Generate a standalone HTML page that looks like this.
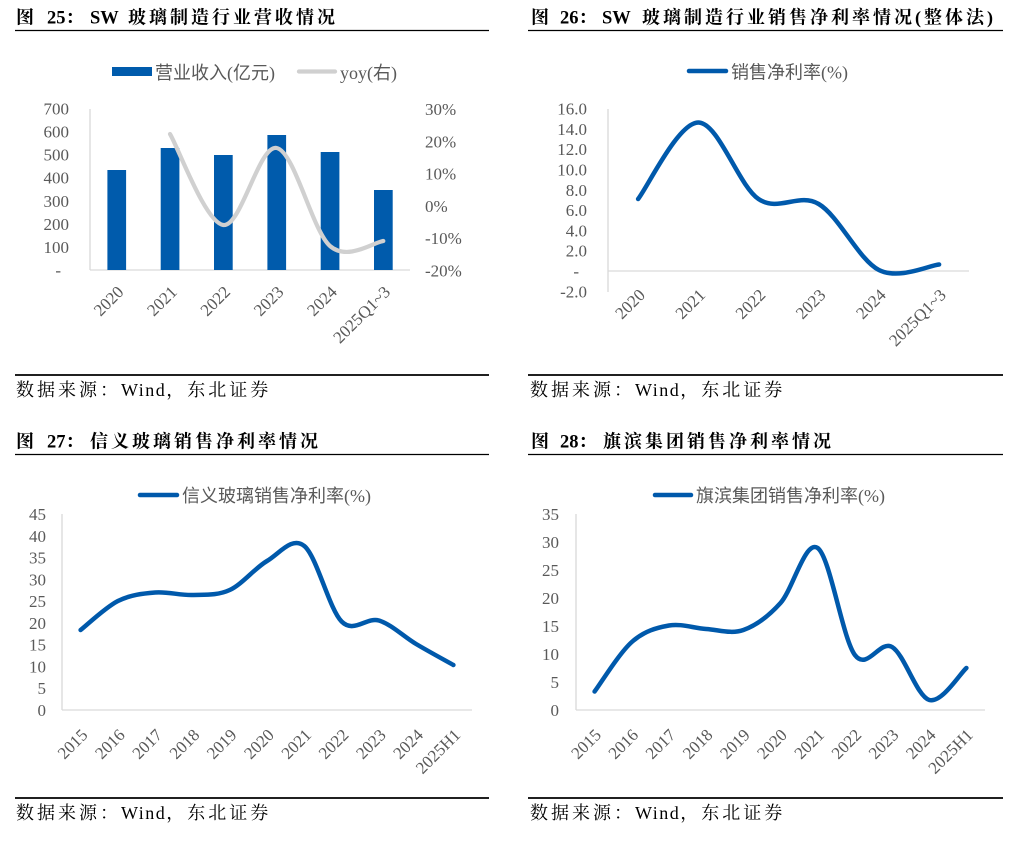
<!DOCTYPE html>
<html><head><meta charset="utf-8">
<style>
html,body{margin:0;padding:0;background:#fff;}
body{width:1020px;height:846px;overflow:hidden;position:relative;}
svg{position:absolute;left:0;top:0;}
.tt{font-family:"Liberation Serif","Noto Serif CJK SC",serif;font-weight:700;font-size:18px;letter-spacing:3px;fill:#000;}
.tt .l{letter-spacing:0;font-size:18.5px;}
.src{font-family:"Liberation Serif","Noto Serif CJK SC",serif;font-size:18px;letter-spacing:3px;fill:#000;}
.lg{font-family:"Liberation Serif","Noto Sans CJK SC",sans-serif;font-size:18px;fill:#595959;}
.ax{font-family:"Liberation Serif",serif;font-size:17px;fill:#595959;}
</style></head>
<body>
<svg width="1020" height="846" viewBox="0 0 1020 846" xmlns="http://www.w3.org/2000/svg">
<!-- Titles -->
<text class="tt" y="23.5"><tspan x="16">图</tspan><tspan x="47" class="l">25</tspan><tspan>：</tspan><tspan x="90" class="l">SW</tspan><tspan x="128">玻璃制造行业营收情况</tspan></text>
<text class="tt" y="23.5"><tspan x="531">图</tspan><tspan x="560" class="l">26</tspan><tspan>：</tspan><tspan x="602" class="l">SW</tspan><tspan x="642">玻璃制造行业销售净利率情况(整体法)</tspan></text>
<text class="tt" y="447.5"><tspan x="16">图</tspan><tspan x="47" class="l">27</tspan><tspan>：</tspan><tspan x="90">信义玻璃销售净利率情况</tspan></text>
<text class="tt" y="447.5"><tspan x="531">图</tspan><tspan x="560" class="l">28</tspan><tspan>：</tspan><tspan x="603">旗滨集团销售净利率情况</tspan></text>
<line x1="15" y1="30.5" x2="489" y2="30.5" stroke="#000" stroke-width="1.2"/>
<line x1="528" y1="30.5" x2="1003" y2="30.5" stroke="#000" stroke-width="1.2"/>
<line x1="15" y1="454.5" x2="489" y2="454.5" stroke="#000" stroke-width="1.2"/>
<line x1="528" y1="454.5" x2="1003" y2="454.5" stroke="#000" stroke-width="1.2"/>
<!-- Sources -->
<line x1="15" y1="375" x2="489" y2="375" stroke="#000" stroke-width="1.7"/>
<line x1="528" y1="375" x2="1003" y2="375" stroke="#000" stroke-width="1.7"/>
<line x1="15" y1="798" x2="489" y2="798" stroke="#000" stroke-width="1.7"/>
<line x1="528" y1="798" x2="1003" y2="798" stroke="#000" stroke-width="1.7"/>
<text class="src" x="16" y="396">数据来源：<tspan style="letter-spacing:1.5px">Wind</tspan>，东北证券</text>
<text class="src" x="530" y="396">数据来源：<tspan style="letter-spacing:1.5px">Wind</tspan>，东北证券</text>
<text class="src" x="16" y="819">数据来源：<tspan style="letter-spacing:1.5px">Wind</tspan>，东北证券</text>
<text class="src" x="530" y="819">数据来源：<tspan style="letter-spacing:1.5px">Wind</tspan>，东北证券</text>

<!-- ================= Chart 1 ================= -->
<rect x="112" y="67" width="40" height="9" fill="#005bac"/>
<text class="lg" x="155" y="79">营业收入(亿元)</text>
<line x1="299" y1="71.5" x2="335" y2="71.5" stroke="#d0d0d0" stroke-width="4.3" stroke-linecap="round"/>
<text class="lg" x="340" y="79">yoy(右)</text>

<g class="ax" text-anchor="end">
<text x="69" y="114.5">700</text>
<text x="69" y="137.6">600</text>
<text x="69" y="160.6">500</text>
<text x="69" y="183.7">400</text>
<text x="69" y="206.8">300</text>
<text x="69" y="229.9">200</text>
<text x="69" y="252.9">100</text>
<text x="61" y="276">-</text>
</g>
<g class="ax" text-anchor="start">
<text x="425" y="115">30%</text>
<text x="425" y="147.3">20%</text>
<text x="425" y="179.6">10%</text>
<text x="425" y="211.9">0%</text>
<text x="425" y="244.2">-10%</text>
<text x="425" y="276.5">-20%</text>
</g>
<line x1="90" y1="109" x2="90" y2="270" stroke="#d9d9d9" stroke-width="1.3"/>
<line x1="90" y1="270" x2="410" y2="270" stroke="#d9d9d9" stroke-width="1.3"/>
<g fill="#005bac">
<rect x="107.4" y="170" width="18.7" height="100"/>
<rect x="160.7" y="148" width="18.7" height="122"/>
<rect x="214" y="155" width="18.7" height="115"/>
<rect x="267.4" y="135" width="18.7" height="135"/>
<rect x="320.7" y="152" width="18.7" height="118"/>
<rect x="374" y="190" width="18.7" height="80"/>
</g>
<path d="M170,134 C178.9,149 205.5,222.7 223.3,225 C241.1,227.3 258.9,144.5 276.7,148 C294.5,151.5 312.2,230.5 330,246 C347.8,261.5 374.4,241.8 383.3,241" fill="none" stroke="#d0d0d0" stroke-width="4.2" stroke-linecap="round" stroke-linejoin="round"/>
<g class="ax" text-anchor="end">
<text transform="translate(120.7,289) rotate(-45)" dy="0.33em">2020</text>
<text transform="translate(174,289) rotate(-45)" dy="0.33em">2021</text>
<text transform="translate(227.3,289) rotate(-45)" dy="0.33em">2022</text>
<text transform="translate(280.7,289) rotate(-45)" dy="0.33em">2023</text>
<text transform="translate(334,289) rotate(-45)" dy="0.33em">2024</text>
<text transform="translate(387.3,289) rotate(-45)" dy="0.33em">2025Q1~3</text>
</g>

<!-- ================= Chart 2 ================= -->
<line x1="689" y1="71" x2="726" y2="71" stroke="#0059ab" stroke-width="4.5" stroke-linecap="round"/>
<text class="lg" x="731" y="78.5">销售净利率(%)</text>
<g class="ax" text-anchor="end">
<text x="587" y="114.6">16.0</text>
<text x="587" y="134.9">14.0</text>
<text x="587" y="155.2">12.0</text>
<text x="587" y="175.5">10.0</text>
<text x="587" y="195.8">8.0</text>
<text x="587" y="216.1">6.0</text>
<text x="587" y="236.4">4.0</text>
<text x="587" y="256.7">2.0</text>
<text x="579" y="277">-</text>
<text x="587" y="297.3">-2.0</text>
</g>
<line x1="608" y1="109" x2="608" y2="292" stroke="#d9d9d9" stroke-width="1.3"/>
<line x1="608" y1="271" x2="969" y2="271" stroke="#d9d9d9" stroke-width="1.3"/>
<path d="M638.1,199 C648.1,186.25 678.2,122.5 698.3,122.5 C718.4,122.5 738.4,185.4 758.5,199 C778.6,212.6 798.6,192.2 818.7,204 C838.8,215.8 858.8,259.9 878.9,270 C899,280.1 929.1,265.4 939.1,264.5" fill="none" stroke="#0059ab" stroke-width="4.5" stroke-linecap="round" stroke-linejoin="round"/>
<g class="ax" text-anchor="end">
<text transform="translate(642.1,292) rotate(-45)" dy="0.33em">2020</text>
<text transform="translate(702.3,292) rotate(-45)" dy="0.33em">2021</text>
<text transform="translate(762.5,292) rotate(-45)" dy="0.33em">2022</text>
<text transform="translate(822.7,292) rotate(-45)" dy="0.33em">2023</text>
<text transform="translate(882.9,292) rotate(-45)" dy="0.33em">2024</text>
<text transform="translate(943.1,292) rotate(-45)" dy="0.33em">2025Q1~3</text>
</g>

<!-- ================= Chart 3 ================= -->
<line x1="140" y1="495" x2="177" y2="495" stroke="#0059ab" stroke-width="4.5" stroke-linecap="round"/>
<text class="lg" x="182" y="502">信义玻璃销售净利率(%)</text>
<g class="ax" text-anchor="end">
<text x="46" y="520">45</text>
<text x="46" y="541.8">40</text>
<text x="46" y="563.6">35</text>
<text x="46" y="585.3">30</text>
<text x="46" y="607.1">25</text>
<text x="46" y="628.9">20</text>
<text x="46" y="650.7">15</text>
<text x="46" y="672.4">10</text>
<text x="46" y="694.2">5</text>
<text x="46" y="716">0</text>
</g>
<line x1="62" y1="514" x2="62" y2="710" stroke="#d9d9d9" stroke-width="1.3"/>
<line x1="62" y1="710" x2="472" y2="710" stroke="#d9d9d9" stroke-width="1.3"/>
<path d="M80.6,630 C86.8,625.2 105.5,607.3 117.9,601 C130.3,594.8 142.8,593.5 155.2,592.5 C167.6,591.5 180.1,595.4 192.5,595 C204.9,594.6 217.3,595.7 229.7,590 C242.1,584.3 254.6,568.3 267,561 C279.4,553.7 291.9,535.9 304.3,546 C316.7,556.1 329.2,609.1 341.6,621.5 C354,633.9 366.5,616.75 378.9,620.5 C391.3,624.25 403.7,636.6 416.1,644 C428.5,651.4 447.2,661.5 453.4,665" fill="none" stroke="#0059ab" stroke-width="4.5" stroke-linecap="round" stroke-linejoin="round"/>
<g class="ax" text-anchor="end">
<text transform="translate(84.6,732) rotate(-45)" dy="0.33em">2015</text>
<text transform="translate(121.9,732) rotate(-45)" dy="0.33em">2016</text>
<text transform="translate(159.2,732) rotate(-45)" dy="0.33em">2017</text>
<text transform="translate(196.5,732) rotate(-45)" dy="0.33em">2018</text>
<text transform="translate(233.7,732) rotate(-45)" dy="0.33em">2019</text>
<text transform="translate(271,732) rotate(-45)" dy="0.33em">2020</text>
<text transform="translate(308.3,732) rotate(-45)" dy="0.33em">2021</text>
<text transform="translate(345.6,732) rotate(-45)" dy="0.33em">2022</text>
<text transform="translate(382.9,732) rotate(-45)" dy="0.33em">2023</text>
<text transform="translate(420.1,732) rotate(-45)" dy="0.33em">2024</text>
<text transform="translate(457.4,732) rotate(-45)" dy="0.33em">2025H1</text>
</g>

<!-- ================= Chart 4 ================= -->
<line x1="655" y1="495" x2="691" y2="495" stroke="#0059ab" stroke-width="4.5" stroke-linecap="round"/>
<text class="lg" x="696" y="502">旗滨集团销售净利率(%)</text>
<g class="ax" text-anchor="end">
<text x="559" y="520">35</text>
<text x="559" y="548">30</text>
<text x="559" y="576">25</text>
<text x="559" y="604">20</text>
<text x="559" y="632">15</text>
<text x="559" y="660">10</text>
<text x="559" y="688">5</text>
<text x="559" y="716">0</text>
</g>
<line x1="576" y1="514" x2="576" y2="710" stroke="#d9d9d9" stroke-width="1.3"/>
<line x1="576" y1="710" x2="985" y2="710" stroke="#d9d9d9" stroke-width="1.3"/>
<path d="M594.6,691.5 C600.8,683.25 619.4,653 631.8,642 C644.2,631 656.6,627.7 669,625.5 C681.4,623.3 693.8,628.25 706.2,629 C718.6,629.75 731,634.3 743.4,630 C755.8,625.7 768.1,616.7 780.5,603 C792.9,589.3 805.3,539.3 817.7,548 C830.1,556.7 842.5,638.5 854.9,655 C867.3,671.5 879.7,639.5 892.1,647 C904.5,654.5 916.9,696.5 929.3,700 C941.7,703.5 960.2,673.3 966.4,668" fill="none" stroke="#0059ab" stroke-width="4.5" stroke-linecap="round" stroke-linejoin="round"/>
<g class="ax" text-anchor="end">
<text transform="translate(598.1,732) rotate(-45)" dy="0.33em">2015</text>
<text transform="translate(635.3,732) rotate(-45)" dy="0.33em">2016</text>
<text transform="translate(672.5,732) rotate(-45)" dy="0.33em">2017</text>
<text transform="translate(709.7,732) rotate(-45)" dy="0.33em">2018</text>
<text transform="translate(746.9,732) rotate(-45)" dy="0.33em">2019</text>
<text transform="translate(784,732) rotate(-45)" dy="0.33em">2020</text>
<text transform="translate(821.2,732) rotate(-45)" dy="0.33em">2021</text>
<text transform="translate(858.4,732) rotate(-45)" dy="0.33em">2022</text>
<text transform="translate(895.6,732) rotate(-45)" dy="0.33em">2023</text>
<text transform="translate(932.8,732) rotate(-45)" dy="0.33em">2024</text>
<text transform="translate(969.9,732) rotate(-45)" dy="0.33em">2025H1</text>
</g>
</svg>
</body></html>
